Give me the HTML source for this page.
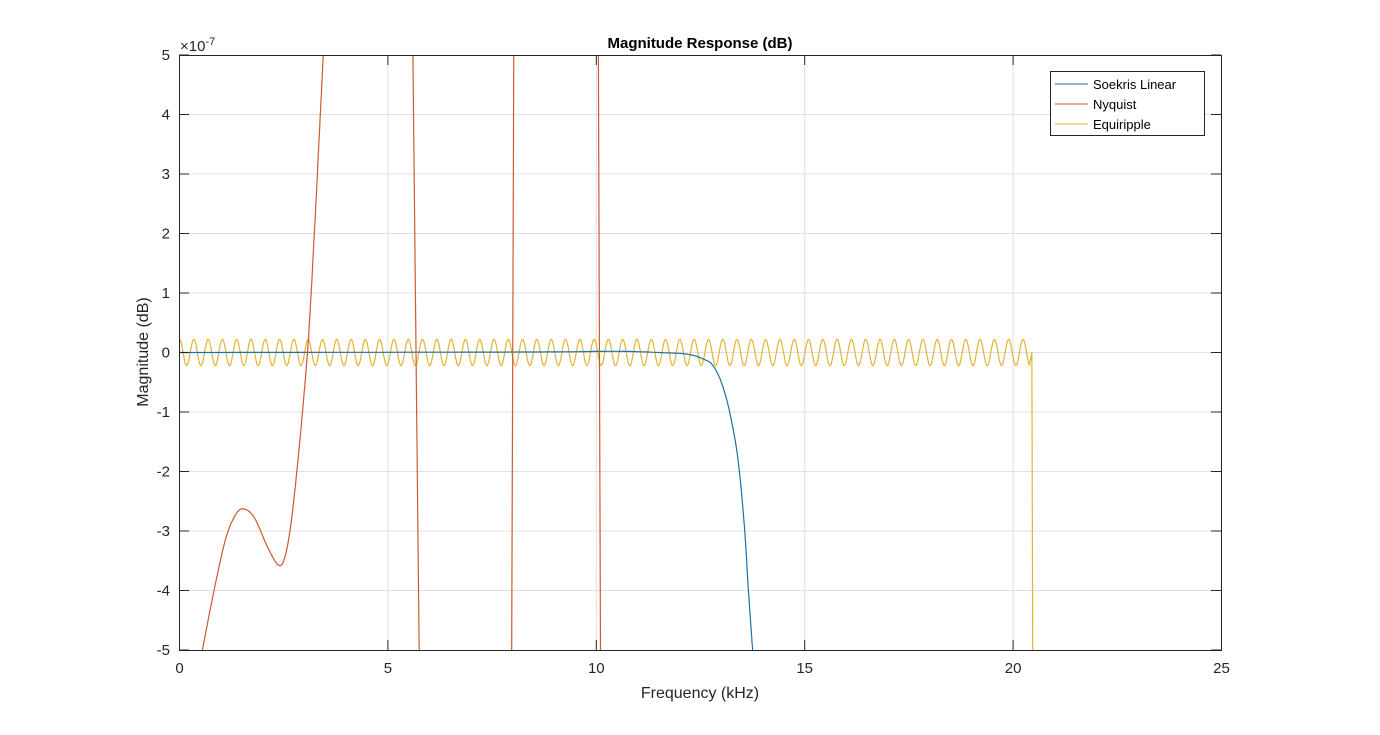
<!DOCTYPE html><html><head><style>body{margin:0;background:#fff}svg{font-family:"Liberation Sans",Arial,sans-serif}</style></head><body>
<svg id="s" width="1380" height="730" xmlns="http://www.w3.org/2000/svg">
<rect width="1380" height="730" fill="#fff"/>
<g id="grid" stroke="#e0e0e0" stroke-width="1"></g>
<g id="data" fill="none" stroke-width="1.2"></g>
<rect x="179.5" y="55.5" width="1042" height="595" fill="none" stroke="#262626" stroke-width="1"/>
<g id="ticks" stroke="#262626"></g>
<g id="lab" font-size="15" fill="#262626"></g>
<text x="700" y="48" font-size="15" font-weight="bold" text-anchor="middle" fill="#000">Magnitude Response (dB)</text>
<text x="700" y="698" font-size="16" text-anchor="middle" fill="#262626">Frequency (kHz)</text>
<text transform="translate(148,352) rotate(-90)" font-size="16" text-anchor="middle" fill="#262626">Magnitude (dB)</text>
<text x="180" y="51" font-size="15" fill="#262626">×10<tspan dy="-6" font-size="11">-7</tspan></text>
<rect x="1050.5" y="71.5" width="154" height="64" fill="#fff" stroke="#262626"/>
<line x1="1055" y1="84" x2="1088" y2="84" stroke="#1f6fa8"/>
<line x1="1055" y1="104" x2="1088" y2="104" stroke="#cc5a2e"/>
<line x1="1055" y1="124" x2="1088" y2="124" stroke="#e3b432"/>
<text x="1093" y="89" font-size="13" fill="#000">Soekris Linear</text>
<text x="1093" y="109" font-size="13" fill="#000">Nyquist</text>
<text x="1093" y="129" font-size="13" fill="#000">Equiripple</text>
</svg>
<script>
const X=f=>179.5+f*41.68, Y=v=>352.5-v*59.5;
const ns="http://www.w3.org/2000/svg";
function el(p,t,a,txt){const e=document.createElementNS(ns,t);for(const k in a)e.setAttribute(k,a[k]);if(txt!=null)e.textContent=txt;document.getElementById(p).appendChild(e);}
for(let f=5;f<25;f+=5)el("grid","line",{x1:X(f),x2:X(f),y1:55,y2:650});
for(let v=-4;v<5;v++)el("grid","line",{x1:179,x2:1221,y1:Y(v),y2:Y(v)});
for(let f=0;f<=25;f+=5){el("ticks","line",{x1:X(f),x2:X(f),y1:650,y2:640});el("ticks","line",{x1:X(f),x2:X(f),y1:55,y2:65});el("lab","text",{x:X(f),y:673,"text-anchor":"middle"},f);}
for(let v=-5;v<=5;v++){el("ticks","line",{x1:179,x2:189,y1:Y(v),y2:Y(v)});el("ticks","line",{x1:1221,x2:1211,y1:Y(v),y2:Y(v)});el("lab","text",{x:170,y:Y(v)+5,"text-anchor":"end"},v);}
function cr(pts){let d="M"+X(pts[0][0]).toFixed(1)+","+Y(pts[0][1]).toFixed(1);
for(let i=0;i<pts.length-1;i++){const p0=pts[Math.max(i-1,0)],p1=pts[i],p2=pts[i+1],p3=pts[Math.min(i+2,pts.length-1)];
for(let t=0.1;t<=1.001;t+=0.1){const t2=t*t,t3=t2*t;const c=k=>0.5*((2*p1[k])+(-p0[k]+p2[k])*t+(2*p0[k]-5*p1[k]+4*p2[k]-p3[k])*t2+(-p0[k]+3*p1[k]-3*p2[k]+p3[k])*t3);
d+="L"+X(c(0)).toFixed(1)+","+Y(c(1)).toFixed(1);}}return d;}
// equiripple
let p="";for(let f=0;f<=20.4;f+=0.01){p+=(p?"L":"M")+X(f).toFixed(1)+","+Y(0.22*Math.cos(2*Math.PI*f/0.343)).toFixed(1);}
p+="L"+X(20.45)+","+Y(0)+"L"+X(20.47)+",650";
el("data","path",{d:p,stroke:"#e3b432"});
// soekris
const sk=[[0,0],[6,0.005],[9,0.01],[10.5,0.02],[11.5,0.0],[12.2,-0.03],[12.6,-0.12],[12.8,-0.22],[13.0,-0.5],[13.2,-1.0],[13.4,-1.8],[13.55,-2.9],[13.65,-4],[13.75,-5]];
el("data","path",{d:cr(sk),stroke:"#1f6fa8"});
// nyquist
const ny=[[0.55,-5],[0.8,-4.1],[1.1,-3.15],[1.35,-2.72],[1.55,-2.63],[1.8,-2.78],[2.1,-3.25],[2.35,-3.56],[2.5,-3.5],[2.65,-3.0],[2.8,-2.1],[2.95,-1],[3.1,0.3],[3.25,2.2],[3.35,3.6],[3.45,5]];
p=cr(ny);
p+=`M${X(5.6)},55L${X(5.75)},650M${X(7.97)},650L${X(8.02)},55M${X(10.05)},55L${X(10.1)},650`;
el("data","path",{d:p,stroke:"#cc5a2e"});
</script></body></html>
